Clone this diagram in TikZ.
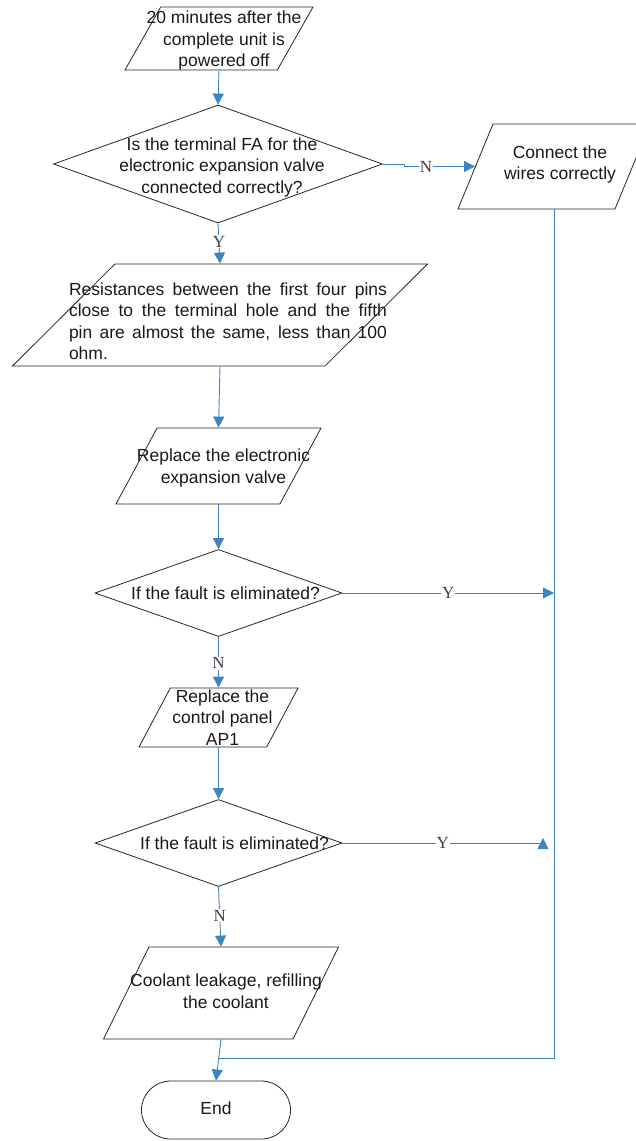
\documentclass[tikz,border=0pt]{standalone}
\usepackage{fontspec}
\setmainfont{Liberation Sans}
\newfontfamily\ynfont{Liberation Serif}
\usetikzlibrary{shapes.geometric,shapes.misc,arrows.meta}

\definecolor{flowblue}{RGB}{62,132,192}

\tikzset{
  box/.style={trapezium, trapezium stretches=true, draw=black!85, line width=0.8pt, inner sep=1pt},
  ask/.style={diamond, draw=black!85, line width=0.8pt, inner sep=1pt},
  stop/.style={rounded rectangle, draw=black!85, line width=0.8pt, inner sep=1pt},
  txt/.style={font=\fontsize{17.5}{21.5}\selectfont, text=black!90, align=center},
  line/.style={draw=flowblue, line width=0.9pt},
  flow/.style={line, -{Triangle[length=11pt,width=11pt]}},
  yn/.style={font=\ynfont\fontsize{17}{17}\selectfont, text=black!75, fill=white, inner sep=1pt},
}

\begin{document}
\begin{tikzpicture}[x=1pt,y=-1pt]
\useasboundingbox (0,0) rectangle (636,1141);

% boxes
\node[box, trapezium left angle=73, trapezium right angle=107, minimum width=188, minimum height=63,
  label={[txt, xshift=5pt, yshift=-2pt]center:20 minutes after the\\complete unit is\\powered off}] (start) at (219,38.5) {};
\node[ask, minimum width=329, minimum height=118,
  label={[txt, xshift=4pt, yshift=-3pt]center:Is the terminal FA for the\\electronic expansion valve\\connected correctly?}] (fa) at (218,164) {};
\node[box, trapezium left angle=74, trapezium right angle=106, minimum width=192, minimum height=85,
  label={[txt, xshift=6pt, yshift=2pt]center:Connect the\\wires correctly}] (wire) at (554,166.5) {};
\node[box, trapezium left angle=64, trapezium right angle=116, minimum width=415, minimum height=102,
  label={[txt, align=justify, text width=318pt, inner sep=0pt, xshift=8pt, yshift=-6pt]center:{Resistances between the first four pins\linebreak close to the terminal hole and the fifth\linebreak pin are almost the same, less than 100\linebreak ohm.}}] (ohm) at (220,315) {};
\node[box, trapezium left angle=71.5, trapezium right angle=108.5, minimum width=205, minimum height=76,
  label={[txt, xshift=5pt, yshift=-2pt]center:Replace the electronic\\expansion valve}] (eev) at (218.5,466) {};
\node[ask, minimum width=247, minimum height=87,
  label={[txt, xshift=7pt]center:If the fault is eliminated?}] (ok1) at (218.5,593) {};
\node[box, trapezium left angle=72, trapezium right angle=108, minimum width=159, minimum height=59,
  label={[txt, xshift=4pt]center:Replace the\\control panel\\AP1}] (ap1) at (218.5,717.5) {};
\node[ask, minimum width=247, minimum height=87,
  label={[txt, xshift=16pt]center:If the fault is eliminated?}] (ok2) at (218.5,843) {};
\node[box, trapezium left angle=72.5, trapezium right angle=107.5, minimum width=235, minimum height=92,
  label={[txt, xshift=5pt, yshift=2pt]center:{Coolant leakage, refilling\\the coolant}}] (leak) at (221,993) {};
\node[stop, minimum width=151, minimum height=58, txt] (end) at (216,1110) {\raisebox{3pt}{End}};

% connectors
\coordinate (merge) at (218,1058);
\draw[flow] (start.south) -- (fa.north);
\draw[flow] (fa.east) -- ++(22,0) |- node[yn, pos=0.65]{N} (wire.left side);
\draw[flow] (fa.south) -- node[yn, pos=0.46]{Y} (ohm.north);
\draw[flow] (ohm.south) -- (eev.north);
\draw[flow] (eev.south) -- (ok1.north);
\draw[flow] (ok1.east) -- node[yn]{Y} (ok1.east -| wire.south);
\draw[flow] (ok1.south) -- node[yn, pos=0.52]{N} (ap1.north);
\draw[flow] (ap1.south) -- (ok2.north);
\draw[flow] (ok2.east) -- node[yn, pos=0.5]{Y} ([xshift=-11pt]ok2.east -| wire.south) -- ++(0,-5);
\draw[flow] (ok2.south) -- node[yn, pos=0.48]{N} (leak.north);
\draw[flow] (leak.south) -- (end.north);
\draw[line] (wire.south) |- (merge);
\end{tikzpicture}
\end{document}
